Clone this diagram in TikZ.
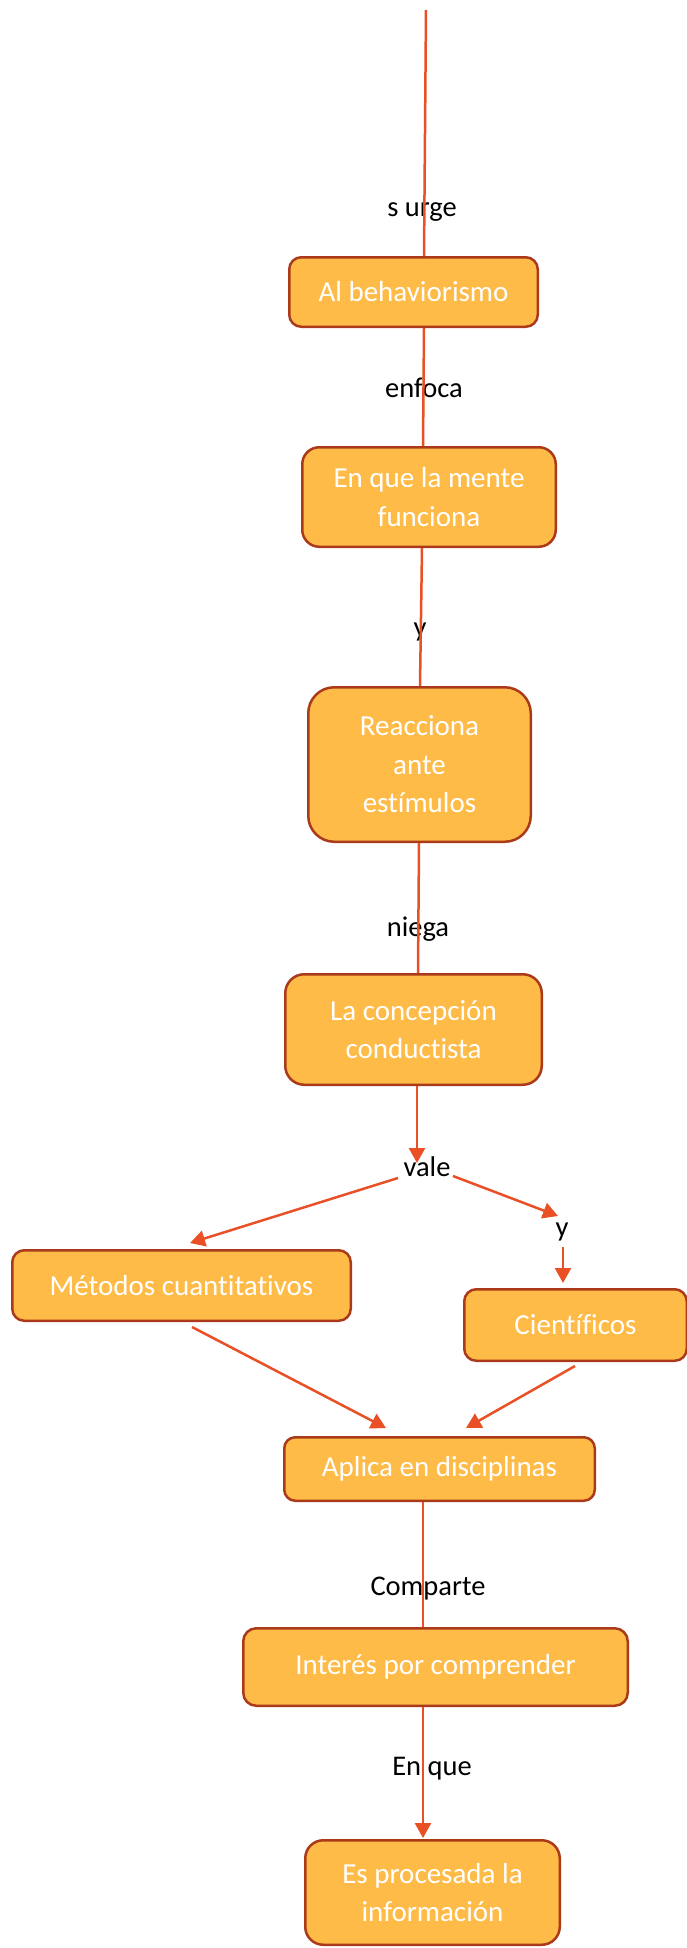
\documentclass[tikz,border=0pt]{standalone}
\usepackage{fontspec}
\setmainfont{Carlito}[Ligatures=NoCommon]
\usetikzlibrary{arrows.meta}
\definecolor{boxfill}{RGB}{255,187,71}
\definecolor{boxedge}{RGB}{170,58,26}
\definecolor{connclr}{RGB}{233,80,38}
\begin{document}
\begin{tikzpicture}[x=1pt,y=-1pt,
  box/.style={draw=boxedge, fill=boxfill, line width=2.5pt, text=white, align=center,
    font=\fontsize{29}{38.5}\selectfont, inner sep=0pt},
  lab/.style={text=black, font=\fontsize{28.5}{34}\selectfont, inner sep=0pt, anchor=base},
  conn/.style={draw=connclr, line width=2.5pt},
  arr/.style={conn, -{Triangle[length=15pt,width=16pt]}}]
\useasboundingbox (0,0) rectangle (687,1948);
\fill[white] (0,0) rectangle (687,1948);

\coordinate (top) at (426,10);
\node[box, minimum width=248.5pt, minimum height=69.5pt, rounded corners=12pt] (b1) at (413.5,292) {Al behaviorismo};
\node[box, minimum width=253.5pt, minimum height=99.5pt, rounded corners=17pt] (b2) at (429,497) {En que la mente\\funciona};
\node[box, minimum width=222.5pt, minimum height=154.5pt, rounded corners=26pt] (b3) at (419.5,764.5) {Reacciona\\ante\\estímulos};
\node[box, minimum width=256.5pt, minimum height=110.5pt, rounded corners=19pt] (b4) at (413.5,1029.5) {La concepción\\conductista};
\node[box, minimum width=338.5pt, minimum height=70.5pt, rounded corners=12pt] (b5) at (181.5,1285.5) {Métodos cuantitativos};
\node[box, minimum width=222.5pt, minimum height=71.5pt, rounded corners=12pt] (b6) at (575.5,1325) {Científicos};
\node[box, minimum width=310.5pt, minimum height=63.5pt, rounded corners=11pt] (b7) at (439.5,1469) {Aplica en disciplinas};
\node[box, minimum width=384.5pt, minimum height=77.5pt, rounded corners=13pt] (b8) at (435.5,1667) {Interés por comprender};
\node[box, minimum width=254.5pt, minimum height=104.5pt, rounded corners=18pt] (b9) at (432.5,1892.5) {Es procesada la\\información};

\node[lab] (l1) at (422,216) {s urge};
\node[lab] (l2) at (424,397) {enfoca};
\node[lab] (l3) at (420,636) {y};
\node[lab] (l4) at (418,936) {niega};
\node[lab] (l5) at (427,1176) {vale};
\node[lab] (l6) at (562,1236) {y};
\node[lab] (l7) at (428,1595) {Comparte};
\node[lab] (l8) at (432,1775) {En que};

\draw[conn] (top) -- ([xshift=10.5pt]b1.north);
\draw[conn] ([xshift=10.5pt]b1.south) -- ([xshift=-6pt]b2.north);
\draw[conn] ([xshift=-7pt]b2.south) -- ([xshift=0.5pt]b3.north);
\draw[conn] ([xshift=-0.5pt]b3.south) -- ([xshift=4.5pt]b4.north);
\draw[arr] ([xshift=3.5pt]b4.south) -- ([shift={(-10pt,13pt)}]l5.base);
\draw[arr] ([shift={(-29pt,-2pt)}]l5.base) -- ([shift={(8.5pt,6pt)}]b5.north);
\draw[arr] ([shift={(26pt,0pt)}]l5.base) -- ([shift={(-4pt,20pt)}]l6.base);
\draw[arr] ([shift={(1pt,-11pt)}]l6.base) -- ([shift={(-12.5pt,5pt)}]b6.north);
\draw[arr] ([shift={(10.5pt,-5pt)}]b5.south) -- ([shift={(-53.5pt,8pt)}]b7.north);
\draw[arr] ([shift={(-0.5pt,-4pt)}]b6.south) -- ([shift={(26.5pt,8pt)}]b7.north);
\draw[conn] ([xshift=-16.5pt]b7.south) -- ([xshift=-12.5pt]b8.north);
\draw[arr] ([xshift=-12.5pt]b8.south) -- ([shift={(-9.5pt,1pt)}]b9.north);
\end{tikzpicture}
\end{document}
